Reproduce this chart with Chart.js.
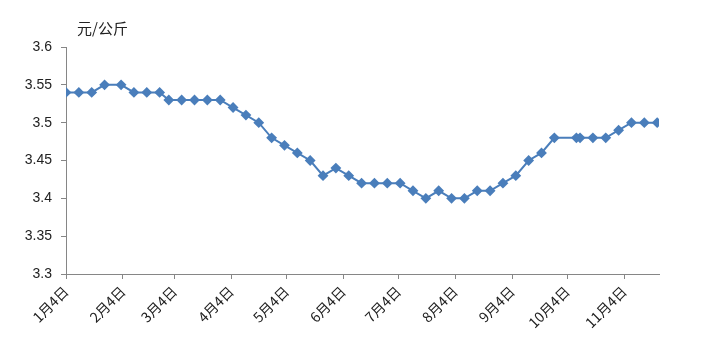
<!DOCTYPE html>
<html>
<head>
<meta charset="utf-8">
<script src="https://cdn.jsdelivr.net/npm/chart.js@4.4.0/dist/chart.umd.min.js"></script>
<style>
  html, body { margin: 0; padding: 0; background: #fff; }
  #wrap { width: 711px; height: 345px; position: relative; }
</style>
</head>
<body>
<div id="wrap"><canvas id="priceChart"></canvas></div>
<script>
const year = 2013;
const unitLabel = "元/公斤";

// weekly observation dates (month-day)
const dates = [
  "01-04", "01-11", "01-18", "01-25", "02-03", "02-10", "02-17", "02-24",
  "03-01", "03-08", "03-15", "03-22", "03-29", "04-05", "04-12", "04-19",
  "04-26", "05-03", "05-10", "05-17", "05-24", "05-31", "06-07", "06-14",
  "06-21", "06-28", "07-05", "07-12", "07-19", "07-26", "08-02", "08-09",
  "08-16", "08-23", "08-30", "09-06", "09-13", "09-20", "09-27", "10-09",
  "10-11", "10-18", "10-25", "11-01", "11-08", "11-15", "11-22"
];
const prices = [
  3.54, 3.54, 3.54, 3.55, 3.55, 3.54, 3.54, 3.54,
  3.53, 3.53, 3.53, 3.53, 3.53, 3.52, 3.51, 3.50,
  3.48, 3.47, 3.46, 3.45, 3.43, 3.44, 3.43, 3.42,
  3.42, 3.42, 3.42, 3.41, 3.40, 3.41, 3.40, 3.40,
  3.41, 3.41, 3.42, 3.43, 3.45, 3.46, 3.48, 3.48,
  3.48, 3.48, 3.48, 3.49, 3.50, 3.50, 3.50
];

const tickDates = ["01-04", "02-04", "03-04", "04-04", "05-04", "06-04", "07-04", "08-04", "09-04", "10-04", "11-04"];
const tickLabels = ["1月4日", "2月4日", "3月4日", "4月4日", "5月4日", "6月4日", "7月4日", "8月4日", "9月4日", "10月4日", "11月4日"];

function dayOffset(md) {
  const [m, d] = md.split("-").map(Number);
  return (Date.UTC(year, m - 1, d) - Date.UTC(year, 0, 4)) / 86400000;
}

const points = dates.map((d, i) => ({ x: dayOffset(d), y: prices[i] }));
const axisColor = '#868686';

const unitTitle = {
  id: 'unitTitle',
  afterDraw(chart) {
    const ctx = chart.ctx;
    ctx.save();
    ctx.font = '15px "Noto Sans CJK SC"';
    ctx.fillStyle = '#222';
    ctx.textBaseline = 'middle';
    ctx.fillText(unitLabel, 77, 28);
    ctx.restore();
  }
};

new Chart(document.getElementById("priceChart"), {
  type: "line",
  data: {
    datasets: [{
      data: points,
      borderColor: '#4A7EBB',
      backgroundColor: '#4A7EBB',
      borderWidth: 2,
      pointStyle: 'rectRot',
      pointRadius: 4,
      pointHoverRadius: 4,
      tension: 0,
      fill: false
    }]
  },
  options: {
    responsive: true,
    maintainAspectRatio: false,
    animation: false,
    layout: { padding: { left: 0, top: 47, right: 52, bottom: 0 } },
    scales: {
      x: {
        type: 'linear',
        min: 0,
        max: 323,
        afterBuildTicks: scale => { scale.ticks = tickDates.map(d => ({ value: dayOffset(d) })); },
        afterFit: scale => { scale.height = 71; },
        border: { color: axisColor, width: 1 },
        grid: { drawOnChartArea: false, drawTicks: true, tickLength: 5, color: axisColor },
        ticks: {
          autoSkip: false,
          maxRotation: 45,
          minRotation: 45,
          padding: 4,
          color: '#222',
          font: { family: '"Noto Sans CJK SC"', size: 14 },
          callback: (value, index) => tickLabels[index]
        }
      },
      y: {
        min: 3.3,
        max: 3.6,
        afterFit: scale => { scale.width = 66; },
        border: { color: axisColor, width: 1 },
        grid: { drawOnChartArea: false, drawTicks: true, tickLength: 5, color: axisColor },
        ticks: {
          stepSize: 0.05,
          padding: 9,
          color: '#222',
          font: { family: '"Liberation Sans"', size: 14 },
          callback: value => String(Number(value.toFixed(2)))
        }
      }
    },
    plugins: {
      legend: { display: false },
      tooltip: { enabled: false }
    }
  },
  plugins: [unitTitle]
});
</script>
</body>
</html>
